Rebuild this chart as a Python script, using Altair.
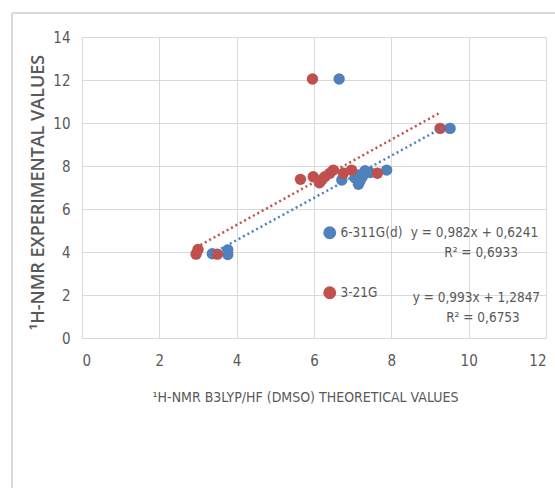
import altair as alt
import pandas as pd

# 6-311G(d) series
blue_x = [6.65, 9.52, 3.37, 3.77, 3.77, 6.72, 7.06, 7.15, 7.15, 7.19, 7.32, 7.45, 7.88, 7.25]
blue_y = [12.05, 9.75, 3.92, 4.10, 3.88, 7.35, 7.44, 7.58, 7.15, 7.30, 7.78, 7.70, 7.81, 7.50]

# 3-21G series
red_x = [5.96, 9.26, 2.95, 3.00, 3.50, 5.65, 5.98, 6.14, 6.20, 6.28, 6.41, 6.50, 6.76, 6.97, 7.64]
red_y = [12.05, 9.75, 3.90, 4.12, 3.90, 7.38, 7.50, 7.22, 7.35, 7.50, 7.66, 7.81, 7.66, 7.81, 7.66]

series_names = ["6-311G(d)", "3-21G"]
series_colors = ["#4F81BD", "#C0504D"]

# linear trendlines: slope, intercept, R²
slopes = [0.982, 0.993]
intercepts = [0.6241, 1.2847]
r2_values = [0.6933, 0.6753]

x_ticks = [0, 2, 4, 6, 8, 10, 12]
y_ticks = [0, 2, 4, 6, 8, 10, 12, 14]

# equation label anchors (data units)
eq_x = [10.15, 10.2]
eq_y = [4.88, 1.85]

NARROW = "DejaVu Sans Condensed"
GREY = "#595959"

points = pd.DataFrame(
    [{"x": x, "y": y, "series": series_names[0]} for x, y in zip(blue_x, blue_y)]
    + [{"x": x, "y": y, "series": series_names[1]} for x, y in zip(red_x, red_y)]
)
points["order"] = points["series"].map({series_names[0]: 0, series_names[1]: 1})

trend_rows = []
for name, xs, m, b in zip(series_names, [blue_x, red_x], slopes, intercepts):
    for xv in (min(xs), max(xs)):
        trend_rows.append({"x": xv, "y": m * xv + b, "series": name})
trend = pd.DataFrame(trend_rows)


def fmt(v, d):
    return f"{v:.{d}f}".replace(".", ",")


labels = []
for i in range(2):
    labels.append({"x": eq_x[i], "y": eq_y[i],
                   "t": f"y = {fmt(slopes[i], 3)}x + {fmt(intercepts[i], 4)}"})
    labels.append({"x": eq_x[i] + 0.17, "y": eq_y[i] - 0.93,
                   "t": f"R² = {fmt(r2_values[i], 4)}"})
labels = pd.DataFrame(labels)

xscale = alt.Scale(domain=[0, 12], nice=False, zero=True)
yscale = alt.Scale(domain=[0, 14], nice=False, zero=True)
cscale = alt.Scale(domain=series_names, range=series_colors)

x_axis = alt.Axis(
    values=x_ticks, ticks=False, domain=False, grid=True, gridColor="#d9d9d9",
    labelFont=NARROW, labelFontSize=15, labelColor=GREY, labelPadding=15,
    title="¹H-NMR B3LYP/HF (DMSO) THEORETICAL VALUES",
    titleFont=NARROW, titleFontSize=14, titleFontWeight="normal", titleColor=GREY,
    titleX=223, titleY=59, titleBaseline="middle", titleAlign="center",
)
y_axis = alt.Axis(
    values=y_ticks, ticks=False, domain=False, grid=True, gridColor="#d9d9d9",
    labelFont=NARROW, labelFontSize=15, labelColor=GREY, labelPadding=12,
    title="¹H-NMR EXPERIMENTAL VALUES",
    titleFont="Open Sans", titleFontSize=18, titleFontWeight=600, titleColor=GREY,
    titleX=-44, titleY=155, titleBaseline="middle", titleAlign="center", titleAngle=-90,
)

scatter = alt.Chart(points).mark_point(
    shape="circle", filled=True, opacity=1, size=130
).encode(
    x=alt.X("x:Q", scale=xscale, axis=x_axis),
    y=alt.Y("y:Q", scale=yscale, axis=y_axis),
    color=alt.Color(
        "series:N", scale=cscale,
        legend=alt.Legend(
            title=None, orient="none", legendX=241, legendY=189,
            symbolType="circle", symbolSize=130, symbolOpacity=1,
            labelFont=NARROW, labelFontSize=13.5, labelColor=GREY,
            rowPadding=42, labelOffset=4,
        ),
    ),
    order=alt.Order("order:Q"),
)

lines = alt.Chart(trend).mark_line(
    strokeWidth=2.5, strokeDash=[2, 3]
).encode(
    x="x:Q", y="y:Q",
    color=alt.Color("series:N", scale=cscale, legend=None),
    detail="series:N",
)

eq_text = alt.Chart(labels).mark_text(
    font=NARROW, fontSize=13.5, color=GREY, align="center", baseline="middle"
).encode(x="x:Q", y="y:Q", text="t:N")

frame_top = alt.Chart().mark_rule(color="#d9d9d9", strokeWidth=2).encode(
    x=alt.value(-70), x2=alt.value(473), y=alt.value(-24)
)
frame_left = alt.Chart().mark_rule(color="#d9d9d9", strokeWidth=2).encode(
    x=alt.value(-70), y=alt.value(-24), y2=alt.value(451)
)

chart = alt.layer(scatter, lines, eq_text, frame_top, frame_left).properties(
    width=464, height=301,
    autosize=alt.AutoSizeParams(type="none"),
    padding={"left": 82, "top": 37, "right": 9, "bottom": 150},
).configure_view(stroke=None).configure(background="white")

chart.save("out.html", embed_options={"renderer": "svg", "actions": False})
